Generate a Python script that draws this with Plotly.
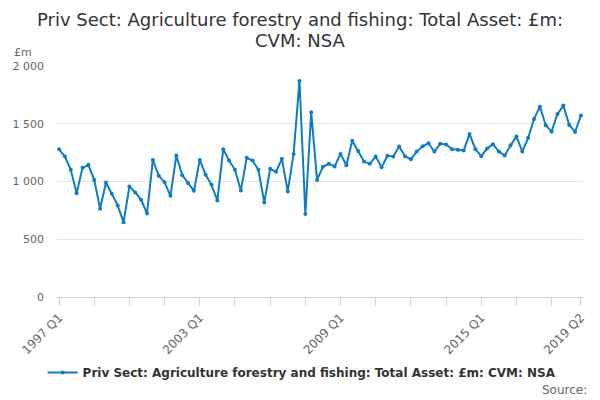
import plotly.graph_objects as go

# quarters 1997 Q1 .. 2019 Q2
quarters = [f"{y} Q{q}" for y in range(1997, 2020) for q in range(1, 5)][:90]

values = [
    1279, 1216, 1101, 899, 1118, 1144, 1014, 764, 991, 893,
    793, 648, 957, 905, 841, 723, 1187, 1049, 994, 876,
    1225, 1055, 986, 919, 1187, 1058, 971, 836, 1280, 1182,
    1101, 922, 1205, 1182, 1101, 818, 1110, 1084, 1196, 914,
    1239, 1871, 718, 1600, 1014, 1127, 1153, 1130, 1239, 1141,
    1352, 1265, 1173, 1153, 1216, 1124, 1222, 1216, 1303, 1219,
    1193, 1259, 1305, 1331, 1259, 1326, 1320, 1280, 1274, 1268,
    1412, 1280, 1219, 1285, 1323, 1259, 1225, 1314, 1389, 1259,
    1378, 1542, 1648, 1487, 1432, 1585, 1657, 1490, 1429, 1571,
]

series_name = "Priv Sect: Agriculture forestry and fishing: Total Asset: £m: CVM: NSA"
title_lines = ["Priv Sect: Agriculture forestry and fishing: Total Asset: £m:", "CVM: NSA"]
label_quarters = ["1997 Q1", "2003 Q1", "2009 Q1", "2015 Q1", "2019 Q2"]
y_ticks = [0, 500, 1000, 1500, 2000]
y_labels = ["0", "500", "1 000", "1 500", "2 000"]

# a tick mark every 6 quarters, plus the last quarter
tick_quarters = quarters[::6] + [quarters[-1]]
tick_text = [q if q in label_quarters else "" for q in tick_quarters]

grey = "#666666"
blue = "#0f7dc2"

fig = go.Figure()
fig.add_trace(go.Scatter(
    x=quarters, y=values, name=series_name,
    mode="lines+markers",
    line=dict(color=blue, width=2),
    marker=dict(color=blue, size=4),
))

# title lines as annotations so the line gap can match
notes = []
for text, ypos in zip(title_lines, [1.203, 1.112]):
    notes.append(dict(text=text, xref="paper", yref="paper", x=0.462, y=ypos,
                      xanchor="center", yanchor="middle", showarrow=False,
                      font=dict(size=18, color="#333333")))
notes.append(dict(text="£m", xref="paper", yref="paper", x=-0.085, y=1.06,
                  xanchor="left", yanchor="middle", showarrow=False,
                  font=dict(size=11, color=grey)))
notes.append(dict(text="Source:", xref="paper", yref="paper", x=1.011, y=-0.401,
                  xanchor="right", yanchor="middle", showarrow=False,
                  font=dict(size=12, color=grey)))

# the page body has an 8px margin, so the figure is 592x392
fig.update_layout(
    width=592, height=392,
    margin=dict(l=49, r=17, t=58, b=103),
    paper_bgcolor="white", plot_bgcolor="white",
    font=dict(family="DejaVu Sans", color="#333333"),
    showlegend=True,
    legend=dict(
        orientation="h", x=0.466, xanchor="center", y=-0.327, yanchor="middle",
        font=dict(size=12, color="#333333", weight="bold"),
    ),
    annotations=notes,
)

fig.update_xaxes(
    type="category", automargin=False,
    range=[-0.35, len(quarters) - 0.65],
    tickmode="array", tickvals=tick_quarters, ticktext=tick_text,
    tickangle=-45, ticks="outside", ticklen=8, tickcolor="#ccd6eb",
    showline=True, linecolor="#ccd6eb", showgrid=False,
    tickfont=dict(size=12, color=grey),
)

fig.update_yaxes(
    range=[0, 2000], automargin=False,
    tickmode="array", tickvals=y_ticks, ticktext=y_labels,
    showgrid=True, gridcolor="#e6e6e6", zeroline=False,
    ticklabelstandoff=12,
    tickfont=dict(size=11, color=grey),
)

fig.write_html("out.html")
